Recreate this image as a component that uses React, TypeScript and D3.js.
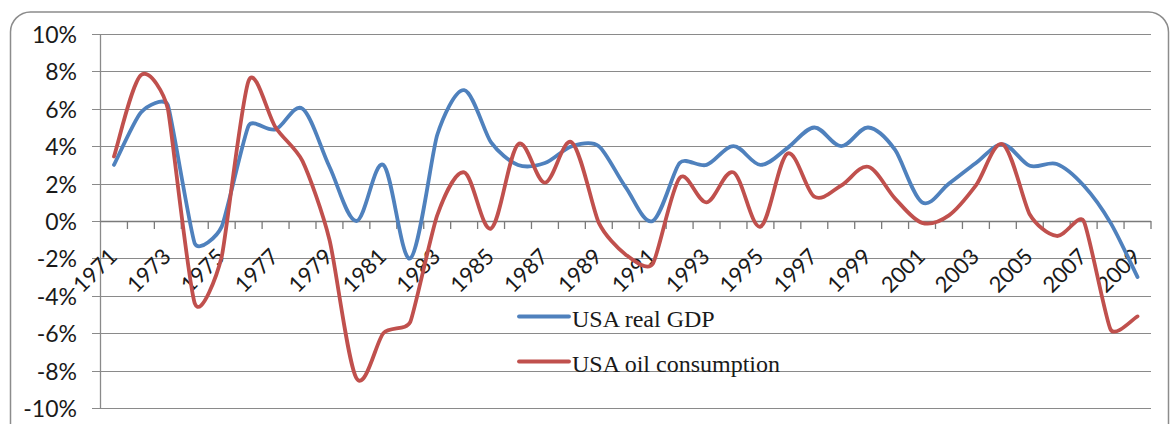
import React from "react";
import * as d3 from "d3";

const years = [
  "1971", "1972", "1973", "1974", "1975", "1976", "1977", "1978", "1979", "1980",
  "1981", "1982", "1983", "1984", "1985", "1986", "1987", "1988", "1989", "1990",
  "1991", "1992", "1993", "1994", "1995", "1996", "1997", "1998", "1999", "2000",
  "2001", "2002", "2003", "2004", "2005", "2006", "2007", "2008", "2009",
];

const gdp = [
  3.0, 5.8, 6.2, -1.2, -0.3, 5.1, 4.9, 6.0, 2.9, 0.0,
  3.0, -2.0, 4.6, 7.0, 4.2, 3.0, 3.1, 4.0, 4.0, 1.8,
  0.0, 3.1, 3.0, 4.0, 3.0, 3.9, 5.0, 4.0, 5.0, 3.8,
  1.0, 2.0, 3.1, 4.1, 2.95, 3.05, 1.9, -0.1, -3.0,
];

const oil = [
  3.45, 7.8, 6.0, -4.4, -1.9, 7.5, 5.0, 3.2, -1.0, -8.4,
  -6.0, -5.4, 0.3, 2.6, -0.4, 4.1, 2.05, 4.2, -0.1, -1.8,
  -2.3, 2.3, 1.0, 2.6, -0.3, 3.6, 1.3, 1.9, 2.9, 1.2,
  -0.1, 0.3, 1.9, 4.1, 0.35, -0.8, 0.0, -5.8, -5.1,
];

const yTicks = [-10, -8, -6, -4, -2, 0, 2, 4, 6, 8, 10];

const seriesNames = ["USA real GDP", "USA oil consumption"];
const seriesColors = ["#4F81BD", "#C0504D"];

// Spreadsheet-style smoothed Bezier curve factory for d3.line
function smoothCurve(context: any) {
  let pts: [number, number][] = [];
  const dist = (a: [number, number], b: [number, number]) =>
    Math.hypot(a[0] - b[0], a[1] - b[1]);
  const tangent = (i: number): [number, number] => {
    const n = pts.length;
    const p1 = pts[i];
    const p0 = i > 0 ? pts[i - 1] : p1;
    const p2 = i < n - 1 ? pts[i + 1] : p1;
    const d02 = dist(p0, p2);
    if (d02 === 0) return [0, 0];
    let f = 1 / 6;
    if (i > 0 && i < n - 1) {
      const d01 = dist(p0, p1);
      const d12 = dist(p1, p2);
      f = Math.min(f, Math.min(d01, d12) / (3 * d02));
    }
    return [(p2[0] - p0[0]) * f, (p2[1] - p0[1]) * f];
  };
  return {
    areaStart() {},
    areaEnd() {},
    lineStart() {
      pts = [];
    },
    point(x: number, y: number) {
      pts.push([+x, +y]);
    },
    lineEnd() {
      const n = pts.length;
      if (!n) return;
      context.moveTo(pts[0][0], pts[0][1]);
      for (let i = 0; i < n - 1; i++) {
        const t1 = tangent(i);
        const t2 = tangent(i + 1);
        context.bezierCurveTo(
          pts[i][0] + t1[0],
          pts[i][1] + t1[1],
          pts[i + 1][0] - t2[0],
          pts[i + 1][1] - t2[1],
          pts[i + 1][0],
          pts[i + 1][1]
        );
      }
    },
  };
}

export default function App() {
  const W = 1172;
  const H = 424;
  const left = 100.5;
  const right = 1151;
  const top = 34;
  const bottom = 408;

  const x = d3.scaleBand<string>().domain(years).range([left, right]).padding(0);
  const y = d3.scaleLinear().domain([-10, 10]).range([bottom, top]);
  const bw = x.bandwidth();
  const cx = (yr: string) => (x(yr) as number) + bw / 2;

  const line = d3
    .line<number>()
    .x((_, i) => cx(years[i]))
    .y((v) => y(v))
    .curve(smoothCurve as any);

  const series = [gdp, oil];
  const gridColor = "#8a8a8a";
  const tickFont = "Lato, 'Open Sans', sans-serif";
  const legendFont = "'Liberation Serif', 'DejaVu Serif', serif";

  return (
    <svg
      width={W}
      height={H}
      style={{ position: "absolute", left: 0, top: 0, background: "#fff" }}
    >
      <rect
        x={10.5}
        y={12}
        width={1158}
        height={450}
        rx={20}
        ry={20}
        fill="#fff"
        stroke="#8c8c8c"
        strokeWidth={1.5}
      />
      {yTicks.map((t) => (
        <line
          key={"g" + t}
          x1={92}
          x2={right}
          y1={Math.round(y(t)) + 0.5}
          y2={Math.round(y(t)) + 0.5}
          stroke={gridColor}
          strokeWidth={1.2}
        />
      ))}
      <line x1={left} x2={left} y1={top} y2={bottom} stroke={gridColor} strokeWidth={1.3} />
      <line
        x1={left}
        x2={right}
        y1={Math.round(y(0)) + 0.5}
        y2={Math.round(y(0)) + 0.5}
        stroke="#7a7a7a"
        strokeWidth={1.4}
      />
      {years.map((yr) => {
        const tx = (x(yr) as number) + bw;
        return (
          <line
            key={"t" + yr}
            x1={tx}
            x2={tx}
            y1={y(0)}
            y2={y(0) + 8}
            stroke="#7a7a7a"
            strokeWidth={1.3}
          />
        );
      })}
      {yTicks.map((t) => (
        <text
          key={"yl" + t}
          x={77}
          y={y(t)}
          textAnchor="end"
          dominantBaseline="central"
          fontFamily={tickFont}
          fontSize={23}
          fill="#1a1a1a"
        >
          {t + "%"}
        </text>
      ))}
      {years.map((yr, i) =>
        i % 2 === 0 ? (
          <text
            key={"xl" + yr}
            transform={`translate(${cx(yr) + 4.5},${258}) rotate(-45)`}
            textAnchor="end"
            fontFamily={tickFont}
            fontSize={22}
            fill="#1a1a1a"
          >
            {yr}
          </text>
        ) : null
      )}
      {series.map((s, k) => (
        <path
          key={"s" + k}
          d={line(s) || ""}
          fill="none"
          stroke={seriesColors[k]}
          strokeWidth={3.8}
          strokeLinejoin="round"
          strokeLinecap="round"
        />
      ))}
      {seriesNames.map((n, k) => {
        const ly = 316.5 + k * 45;
        return (
          <g key={"lg" + k}>
            <line
              x1={519}
              x2={569}
              y1={ly}
              y2={ly}
              stroke={seriesColors[k]}
              strokeWidth={3.8}
              strokeLinecap="round"
            />
            <text
              x={572}
              y={ly + 10}
              fontFamily={legendFont}
              fontSize={24}
              fill="#1a1a1a"
            >
              {n}
            </text>
          </g>
        );
      })}
    </svg>
  );
}
